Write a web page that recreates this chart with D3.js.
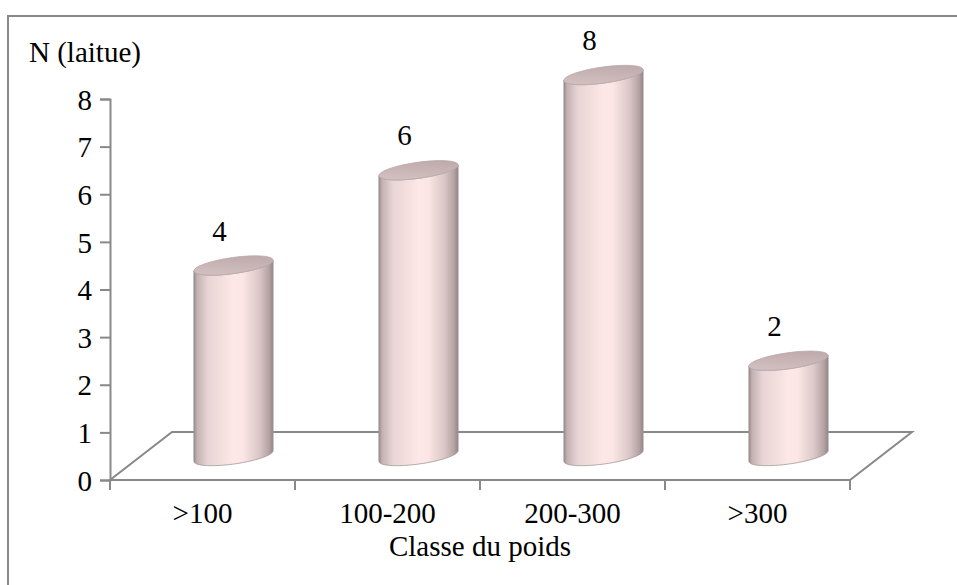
<html><head><meta charset="utf-8"><script src="https://cdn.jsdelivr.net/npm/d3@7"></script>
<style>#chart, #chart text { font-family: "Liberation Serif", "Tinos", "Times New Roman"; }</style>
</head>
<body style="margin:0">
<svg id="chart" width="957" height="585" font-family="Liberation Serif" style="display:block;background:#fff"></svg>
<script>
// Weight classes and number of lettuces in each
const categories = [">100", "100-200", "200-300", ">300"];
const counts = [4, 6, 8, 2];
const yTickValues = [0, 1, 2, 3, 4, 5, 6, 7, 8];
const yTitle = "N (laitue)";
const xTitle = "Classe du poids";

(function () {
const W = 957, H = 585;
const svg = d3.select("#chart");

// Plot geometry (front plane of the 3D floor)
const plotLeft = 110, plotRight = 850, plotBottom = 480, plotTop = 99;
const depthX = 62, depthY = -48;          // offset of the back edge of the floor
const axisColor = "#898989";
const fontName = "Liberation Serif";
const fontSize = 29;

function styleText(sel) {
  return sel.attr("font-family", fontName)
    .style("font-family", `"${fontName}"`)
    .attr("font-size", fontSize)
    .attr("fill", "#000");
}

const x = d3.scaleBand().domain(categories).range([plotLeft, plotRight]).padding(0);
const y = d3.scaleLinear().domain([0, 8]).range([plotBottom, plotTop]);

// Outer frame
svg.append("rect")
  .attr("x", 8).attr("y", 16)
  .attr("width", W + 10).attr("height", H + 10)
  .attr("fill", "none")
  .attr("stroke", axisColor)
  .attr("stroke-width", 2);

// Gradients for the cylinders
const defs = svg.append("defs");
const bodyGrad = defs.append("linearGradient")
  .attr("id", "cylBody").attr("x1", 0).attr("x2", 1).attr("y1", 0).attr("y2", 0);
[
  [0.00, "#948889"], [0.04, "#c3b2b3"], [0.18, "#e9d5d5"], [0.50, "#fde7e7"],
  [0.62, "#fbe5e5"], [0.82, "#dcc8c8"], [0.95, "#b4a2a3"], [1.00, "#928485"]
].forEach(([o, c]) => bodyGrad.append("stop").attr("offset", o).attr("stop-color", c));

const capGrad = defs.append("linearGradient")
  .attr("id", "cylCap").attr("x1", 0).attr("y1", 1).attr("x2", 1).attr("y2", 0);
[[0, "#d6c4c5"], [0.5, "#c9b5b6"], [1, "#bba6a7"]]
  .forEach(([o, c]) => capGrad.append("stop").attr("offset", o).attr("stop-color", c));

// 3D floor outline
const floorPts = [
  [plotLeft, plotBottom], [plotRight, plotBottom],
  [plotRight + depthX, plotBottom + depthY], [plotLeft + depthX, plotBottom + depthY]
];
svg.append("path")
  .attr("d", d3.line()(floorPts) + "Z")
  .attr("fill", "none")
  .attr("stroke", axisColor)
  .attr("stroke-width", 2);

// Y axis
const yAxis = svg.append("g")
  .attr("transform", `translate(${plotLeft},0)`)
  .call(d3.axisLeft(y).tickValues(yTickValues).tickSize(10).tickPadding(8).tickFormat(d3.format("d")));
yAxis.attr("font-family", fontName);
yAxis.select(".domain").attr("stroke", axisColor).attr("stroke-width", 2);
yAxis.selectAll(".tick line").attr("stroke", axisColor).attr("stroke-width", 2);
styleText(yAxis.selectAll(".tick text")).attr("dy", "0.35em");

// X axis: labels at category centres, tick marks at category boundaries
const xAxis = svg.append("g")
  .attr("transform", `translate(0,${plotBottom})`)
  .call(d3.axisBottom(x).tickSize(0).tickPadding(22));
xAxis.attr("font-family", fontName);
xAxis.select(".domain").remove();
styleText(xAxis.selectAll(".tick text"));
const bounds = categories.map(c => x(c)).concat([x(categories[categories.length - 1]) + x.bandwidth()]);
svg.append("g").selectAll("line").data(bounds).join("line")
  .attr("x1", d => d).attr("x2", d => d)
  .attr("y1", plotBottom).attr("y2", plotBottom + 10)
  .attr("stroke", axisColor).attr("stroke-width", 2);

// Cylinders
const rx = 40, ry = 8, theta = -8 * Math.PI / 180;
function ellPt(cx, cy, t) {
  return [
    cx + rx * Math.cos(t) * Math.cos(theta) - ry * Math.sin(t) * Math.sin(theta),
    cy + rx * Math.cos(t) * Math.sin(theta) + ry * Math.sin(t) * Math.cos(theta)
  ];
}
const t0 = Math.atan2(-ry * Math.sin(theta), rx * Math.cos(theta));
const N = 48;

const bars = categories.map((c, i) => ({
  cat: c,
  value: counts[i],
  cx: x(c) + x.bandwidth() / 2 + depthX / 2,
  yBot: y(0) + depthY / 2,
  yTop: y(counts[i]) + depthY / 2
}));

const g = svg.append("g");
bars.forEach(b => {
  const pts = [];
  for (let k = 0; k <= N; k++) pts.push(ellPt(b.cx, b.yBot, t0 + Math.PI * k / N));
  for (let k = N; k >= 0; k--) pts.push(ellPt(b.cx, b.yTop, t0 + Math.PI * k / N));
  g.append("path")
    .attr("d", d3.line()(pts) + "Z")
    .attr("fill", "url(#cylBody)")
    .attr("stroke", "#a4979a")
    .attr("stroke-width", 0.8);
  g.append("ellipse")
    .attr("cx", b.cx).attr("cy", b.yTop)
    .attr("rx", rx).attr("ry", ry)
    .attr("transform", `rotate(${theta * 180 / Math.PI},${b.cx},${b.yTop})`)
    .attr("fill", "url(#cylCap)")
    .attr("stroke", "#b9aaab")
    .attr("stroke-width", 0.8);
});

// Value labels above each cylinder
styleText(svg.append("g").selectAll("text").data(bars).join("text"))
  .attr("x", d => d.cx - 14)
  .attr("y", d => d.yTop - 25)
  .attr("text-anchor", "middle")
  .text(d => d.value);

// Axis titles
styleText(svg.append("text"))
  .attr("x", 29).attr("y", 62)
  .text(yTitle);
styleText(svg.append("text"))
  .attr("x", (plotLeft + plotRight) / 2).attr("y", 556)
  .attr("text-anchor", "middle")
  .text(xTitle);
})();
</script>
</body></html>
